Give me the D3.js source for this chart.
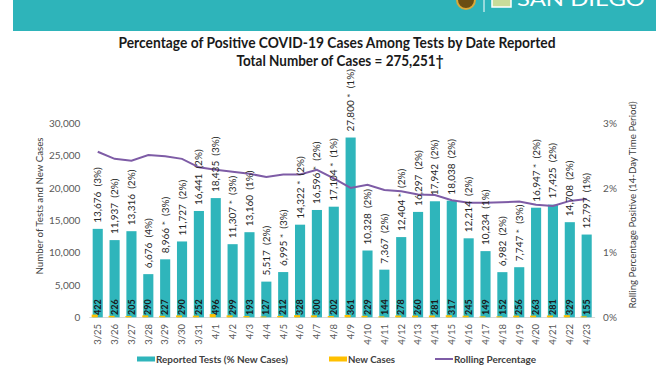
<!DOCTYPE html>
<html><head><meta charset="utf-8">
<script src="https://cdn.jsdelivr.net/npm/d3@7"></script>
<style>
html,body{margin:0;padding:0;background:#fff;}
svg{display:block;font-family:Lato,"Noto Sans",sans-serif;}
</style></head>
<body><svg id="c" width="672" height="372"></svg>
<script>
const dates = ["3/25","3/26","3/27","3/28","3/29","3/30","3/31","4/1","4/2","4/3","4/4","4/5","4/6","4/7","4/8","4/9","4/10","4/11","4/12","4/13","4/14","4/15","4/16","4/17","4/18","4/19","4/20","4/21","4/22","4/23"];
const tests = [13676,11937,13316,6676,8966,11727,16441,18435,11307,13160,5517,6995,14322,16596,17104,27800,10328,7367,12404,16297,17942,18038,12214,10234,6982,7747,16947,17425,14708,12797];
const starred = [0,0,0,0,1,0,0,0,1,0,0,1,1,1,1,1,0,0,1,0,0,0,0,0,0,1,1,0,0,0];
const pctNew = [3,2,2,4,3,2,2,3,3,1,2,3,2,2,1,1,2,2,2,2,2,2,2,1,2,3,2,2,2,1];
const newCases = [422,226,205,290,227,290,252,496,299,193,127,212,328,300,202,361,229,144,278,260,281,317,245,149,152,256,263,281,329,155];
const rolling = [2.56,2.45,2.42,2.51,2.49,2.45,2.32,2.28,2.25,2.22,2.17,2.21,2.21,2.28,2.15,2.00,2.05,1.97,1.95,1.90,1.89,1.81,1.77,1.77,1.78,1.79,1.74,1.72,1.80,1.83];
const leftTicks = [0,5000,10000,15000,20000,25000,30000];
const rightTicks = [0,1,2,3];

const svg = d3.select("#c");
const teal = "#2FB5BB", orange = "#FFC000", purple = "#7E5CA6";

function fit(sel, w){ sel.attr("textLength", w).attr("lengthAdjust","spacingAndGlyphs"); return sel; }

// header banner
svg.append("rect").attr("x",13).attr("y",0).attr("width",643).attr("height",31).attr("fill","#2EB4BA");
svg.append("circle").attr("cx",466).attr("cy",0).attr("r",9).attr("fill","#6b4e12").attr("stroke","#d8a93a").attr("stroke-width",2);
svg.append("line").attr("x1",484).attr("x2",484).attr("y1",0).attr("y2",12).attr("stroke","#fff").attr("stroke-width",1);
svg.append("rect").attr("x",492).attr("y",-3).attr("width",19).attr("height",10).attr("fill","#c9dc9a").attr("stroke","#fff").attr("stroke-width",1.5);
fit(svg.append("text").attr("x",517).attr("y",6).attr("fill","#fff").attr("font-size",19).text("SAN DIEGO"),128);

// titles
fit(svg.append("text").attr("x",337).attr("y",48).attr("text-anchor","middle").attr("font-weight","bold")
  .attr("font-size",15).attr("fill","#1a1a1a").text("Percentage of Positive COVID-19 Cases Among Tests by Date Reported"),437);
fit(svg.append("text").attr("x",340).attr("y",66).attr("text-anchor","middle").attr("font-weight","bold")
  .attr("font-size",15).attr("fill","#1a1a1a").text("Total Number of Cases = 275,251\u2020"),207);

const x = d3.scaleBand().domain(dates).range([89.3,595.1]).paddingInner(0.4).paddingOuter(0.2);
const yL = d3.scaleLinear().domain([0,30000]).range([317.3,123.3]);
const yR = d3.scaleLinear().domain([0,3]).range([317.3,123.3]);
const cx = d => x(d) + x.bandwidth()/2;

// left axis
const axL = svg.append("g").attr("transform","translate(89.3,0)")
  .call(d3.axisLeft(yL).tickValues(leftTicks).tickFormat(d3.format(",")).tickSize(0).tickPadding(9));
axL.select(".domain").remove();
axL.selectAll("text").attr("font-size",10).attr("fill","#595959").attr("font-family","Lato,sans-serif");

// right axis
const axR = svg.append("g").attr("transform","translate(595.1,0)")
  .call(d3.axisRight(yR).tickValues(rightTicks).tickFormat(d=>d+"%").tickSize(0).tickPadding(8));
axR.select(".domain").remove();
axR.selectAll("text").attr("font-size",10).attr("fill","#595959").attr("font-family","Lato,sans-serif");

// axis titles
fit(svg.append("text").attr("transform","translate(43,206) rotate(-90)").attr("text-anchor","middle")
  .attr("font-size",10).attr("fill","#404040").text("Number of Tests and New Cases"),137);
fit(svg.append("text").attr("transform","translate(636,205) rotate(-90)").attr("text-anchor","middle")
  .attr("font-size",10).attr("fill","#404040").text("Rolling Percentage Positive (14-Day Time Period)"),207);

// baseline
svg.append("line").attr("x1",89.3).attr("x2",595.1).attr("y1",317.5).attr("y2",317.5).attr("stroke","#d9d9d9");

// bars
svg.append("g").selectAll("rect").data(dates).join("rect")
  .attr("x",d=>x(d)).attr("width",x.bandwidth())
  .attr("y",(d,i)=>yL(tests[i])).attr("height",(d,i)=>yL(0)-yL(tests[i])).attr("fill",teal);
svg.append("g").selectAll("rect").data(dates).join("rect")
  .attr("x",d=>x(d)-1).attr("width",x.bandwidth()*0.6)
  .attr("y",(d,i)=>yL(newCases[i])).attr("height",(d,i)=>yL(0)-yL(newCases[i])).attr("fill",orange);

// rolling line
svg.append("path").datum(rolling).attr("fill","none").attr("stroke",purple).attr("stroke-width",2)
  .attr("d", d3.line().x((d,i)=>cx(dates[i])).y(d=>yR(d)));

// bar labels
const fmt = d3.format(",");
svg.append("g").selectAll("text").data(dates).join("text")
  .attr("transform",(d,i)=>`translate(${cx(d)},${yL(tests[i])-6}) rotate(-90)`)
  .attr("dy","0.35em").attr("font-size",10).attr("fill","#262626")
  .style("white-space","pre")
  .text((d,i)=>`${fmt(tests[i])}${starred[i]?" *":""}  (${pctNew[i]}%)`);

// new case labels inside bars
svg.append("g").selectAll("text").data(dates).join("text")
  .attr("transform",d=>`translate(${cx(d)},315) rotate(-90)`)
  .attr("dy","0.35em").attr("font-size",9).attr("font-weight","bold").attr("fill","#1a1a1a")
  .text((d,i)=>newCases[i]);

// x labels
svg.append("g").selectAll("text").data(dates).join("text")
  .attr("transform",d=>`translate(${cx(d)},324) rotate(-90)`)
  .attr("dy","0.35em").attr("text-anchor","end").attr("font-size",9.5).attr("fill","#595959")
  .text(d=>d);

// legend
const lg = svg.append("g").attr("font-weight","bold").attr("font-size",10).attr("fill","#404040");
lg.append("rect").attr("x",137).attr("y",356.5).attr("width",18).attr("height",5).attr("fill",teal);
fit(lg.append("text").attr("x",156).attr("y",362.5).text("Reported Tests (% New Cases)"),132);
lg.append("rect").attr("x",329).attr("y",356.5).attr("width",18).attr("height",5).attr("fill",orange);
fit(lg.append("text").attr("x",348).attr("y",362.5).text("New Cases"),47);
lg.append("line").attr("x1",435).attr("x2",453).attr("y1",359).attr("y2",359).attr("stroke",purple).attr("stroke-width",2);
fit(lg.append("text").attr("x",454).attr("y",362.5).text("Rolling Percentage"),82);
</script></body></html>
